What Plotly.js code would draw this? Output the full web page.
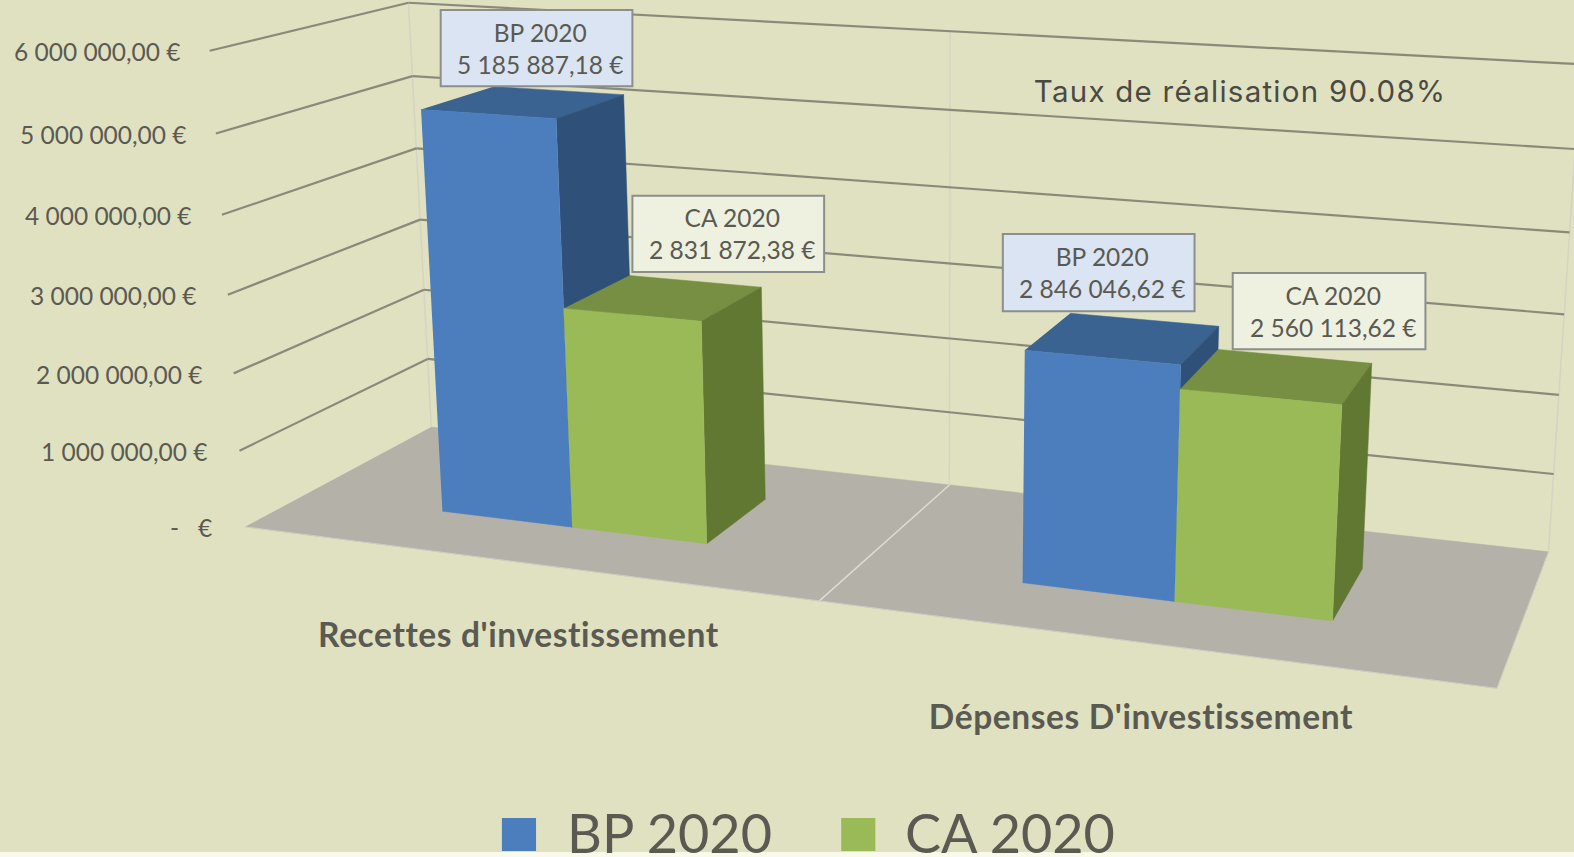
<!DOCTYPE html>
<html><head><meta charset="utf-8"><script src="https://cdn.plot.ly/plotly-3.0.1.min.js"></script>
<style>html,body{margin:0;padding:0;background:#fafaea;overflow:hidden}#c{width:1574px;height:857px;overflow:hidden}
#c text{font-variant-ligatures:none}
#c .annotation[data-index="11"] text,#c .annotation[data-index="12"] text{letter-spacing:.6px}
#c .annotation[data-index="13"] text{letter-spacing:1.25px}</style></head><body><div id="c"></div>
<script>
// ---- chart data ----
const categories=["Recettes d'investissement","Dépenses D'investissement"];
const seriesNames=['BP 2020','CA 2020'];
const bpValues=[5185887.18,2846046.62];
const caValues=[2831872.38,2560113.62];
const tickValues=[0,1000000,2000000,3000000,4000000,5000000,6000000];

// ---- perspective camera of the 3-D chart, fitted on the walls' corners ----
const calib=[[0,0,0,245,524],[0,0,1,237,450],[0,0,2,232,372],[0,0,3,227,294],[0,0,4,221,214],[0,0,5,216,132],[0,0,6,210,51],
[0,1,0,432,426],[0,1,1,426,357],[0,1,2,422,290],[0,1,3,418,218],[0,1,4,414,148],[0,1,5,410,75],[0,1,6,407,3],
[1,1,0,1543,548],[1,1,1,1548,472],[1,1,2,1553,394],[1,1,3,1558,315],[1,1,4,1563,232],[1,0,0,1492,685],[.5,1,0,945,483],[.5,0,0,815,599],[.5,1,6,947,30]];
const k=1574/1568;
function solve(A,b){const n=b.length;for(let i=0;i<n;i++){let m=i;for(let r=i+1;r<n;r++)if(Math.abs(A[r][i])>Math.abs(A[m][i]))m=r;[A[i],A[m]]=[A[m],A[i]];[b[i],b[m]]=[b[m],b[i]];for(let r=i+1;r<n;r++){const f=A[r][i]/A[i][i];for(let c=i;c<n;c++)A[r][c]-=f*A[i][c];b[r]-=f*b[i];}}const x=Array(n).fill(0);for(let i=n-1;i>=0;i--){let s=b[i];for(let c=i+1;c<n;c++)s-=A[i][c]*x[c];x[i]=s/A[i][i];}return x;}
const AtA=Array.from({length:11},()=>Array(11).fill(0)),Atb=Array(11).fill(0);
calib.forEach(([u,v,w,x0,y0])=>{const x=x0*k/1000,y=y0*k/1000;[[u,v,w,1,0,0,0,0,-x*u,-x*v,-x*w,x],[0,0,0,0,u,v,w,1,-y*u,-y*v,-y*w,y]].forEach(r=>{for(let i=0;i<11;i++){Atb[i]+=r[i]*r[11];for(let j=0;j<11;j++)AtA[i][j]+=r[i]*r[j];}});});
const p=solve(AtA,Atb);
function proj(u,v,val){const w=val/1e6,s=p[8]*u+p[9]*v+p[10]*w+1;return [1000*(p[0]*u+p[1]*v+p[2]*w+p[3])/s,1000*(p[4]*u+p[5]*v+p[6]*w+p[7])/s];}

// ---- formatting ----
function money(v){if(v===0)return '-   €';const [a,b]=v.toFixed(2).split('.');return a.replace(/\B(?=(\d{3})+$)/g,' ')+','+b+' €';}

// ---- traces ----
const traces=[];
function poly(pts,color){traces.push({x:pts.map(q=>q[0]),y:pts.map(q=>q[1]),mode:'lines',fill:'toself',fillcolor:color,line:{color:color,width:0.5},hoverinfo:'skip',showlegend:false});}
function seg(a,b,c,wd){const A=proj(...a),B=proj(...b);traces.push({x:[A[0],B[0]],y:[A[1],B[1]],mode:'lines',line:{color:c,width:wd},hoverinfo:'skip',showlegend:false});}
// floor
poly([proj(0,0,0),proj(1,0,0),proj(1,1,0),proj(0,1,0)],'#b4b1a9');
// gridlines
const maxV=tickValues[tickValues.length-1];
const gridC='#8a8a7a', wallC='#d3d4c4';
seg([0,1,0],[0,1,maxV],wallC,1.5);
seg([.5,1,0],[.5,1,maxV],wallC,1.5);
seg([1,1,0],[1,1,maxV],wallC,1.5);
seg([.5,0,0],[.5,1,0],'#dcdcd0',1.5);
seg([0,0,0],[1,0,0],'#cfcfc0',1);
seg([1,0,0],[1,1,0],'#cfcfc0',1);
tickValues.forEach(v=>{ if(v>0){seg([0,0,v],[0,1,v],gridC,2.2); seg([0,1,v],[1,1,v],gridC,2.2);} });
// bars
const vF=0.30,vB=0.70,barW=0.119,centers=[0.249,0.75];
const col=[{f:'#4c7ebd',t:'#3a6392',s:'#2f5179'},{f:'#9aba58',t:'#768f42',s:'#617833'}];
function bar(u0,u1,val,c){
  poly([proj(u0,vB,val),proj(u1,vB,val),proj(u1,vF,val),proj(u0,vF,val)],c.t);
  poly([proj(u1,vF,0),proj(u1,vB,0),proj(u1,vB,val),proj(u1,vF,val)],c.s);
  poly([proj(u0,vF,0),proj(u1,vF,0),proj(u1,vF,val),proj(u0,vF,val)],c.f);
}
categories.forEach((_,i)=>{
  bar(centers[i]-barW,centers[i],bpValues[i],col[0]);
  bar(centers[i],centers[i]+barW,caValues[i],col[1]);
});

// ---- texts ----
const txt='#5a5a52',ann=[],shapes=[];
tickValues.forEach(v=>{const q=proj(0,0,v);ann.push({x:q[0]-(31.5-4*v/maxV),y:q[1]+1,text:money(v),showarrow:false,xanchor:'right',yanchor:'middle',font:{family:'Lato',size:24.5,color:txt}});});
const boxes=[[439,630,10,86,0,'#dae4f2'],[630,821,195,271,1,'#eef1e0'],[999,1190,233,310,0,'#dae4f2'],[1228,1420,272,348,1,'#eef1e0']];
const vals=[bpValues[0],caValues[0],bpValues[1],caValues[1]];
boxes.forEach((b,i)=>{
  shapes.push({type:'rect',xref:'x',yref:'y',x0:b[0]*k,x1:b[1]*k,y0:b[2]*k,y1:b[3]*k,fillcolor:b[5],line:{color:'#8b8e8b',width:2},layer:'above'});
  ann.push({x:((b[0]+b[1])/2+3.5)*k,y:((b[2]+b[3])/2)*k,text:seriesNames[b[4]]+'<br>'+money(vals[i]),showarrow:false,align:'center',xanchor:'center',yanchor:'middle',font:{family:'Lato',size:24.5,color:txt}});
});
ann.push({x:517*k,y:632*k,text:'<b>'+categories[0]+'</b>',showarrow:false,font:{family:'Lato',size:33.5,color:txt}});
ann.push({x:1137*k,y:713*k,text:'<b>'+categories[1]+'</b>',showarrow:false,font:{family:'Lato',size:33.5,color:txt}});
ann.push({x:1235*k,y:91*k,text:'Taux de réalisation 90.08%',showarrow:false,font:{family:'Inter',size:29.5,color:'#4a4a44'}});
ann.push({x:563*k,y:832,text:seriesNames[0],xanchor:'left',yanchor:'middle',showarrow:false,font:{family:'Lato',size:54,color:txt}});
ann.push({x:900*k,y:832,text:seriesNames[1],xanchor:'left',yanchor:'middle',showarrow:false,font:{family:'Lato',size:54,color:txt}});
[[500,col[0].f],[838,col[1].f]].forEach(s=>shapes.push({type:'rect',xref:'x',yref:'y',x0:s[0]*k,x1:(s[0]+34)*k,y0:818,y1:851,fillcolor:s[1],line:{width:0}}));
shapes.push({type:'rect',xref:'x',yref:'y',x0:0,x1:1574,y0:852,y1:857,fillcolor:'#fafaea',line:{width:0},layer:'above'});
Plotly.newPlot('c',traces,{width:1574,height:857,margin:{l:0,r:0,t:0,b:0},paper_bgcolor:'#e0e1c1',plot_bgcolor:'#e0e1c1',showlegend:false,hovermode:false,
xaxis:{visible:false,range:[0,1574],fixedrange:true},yaxis:{visible:false,range:[857,0],fixedrange:true},annotations:ann,shapes:shapes},{displayModeBar:false,staticPlot:true});
</script></body></html>
